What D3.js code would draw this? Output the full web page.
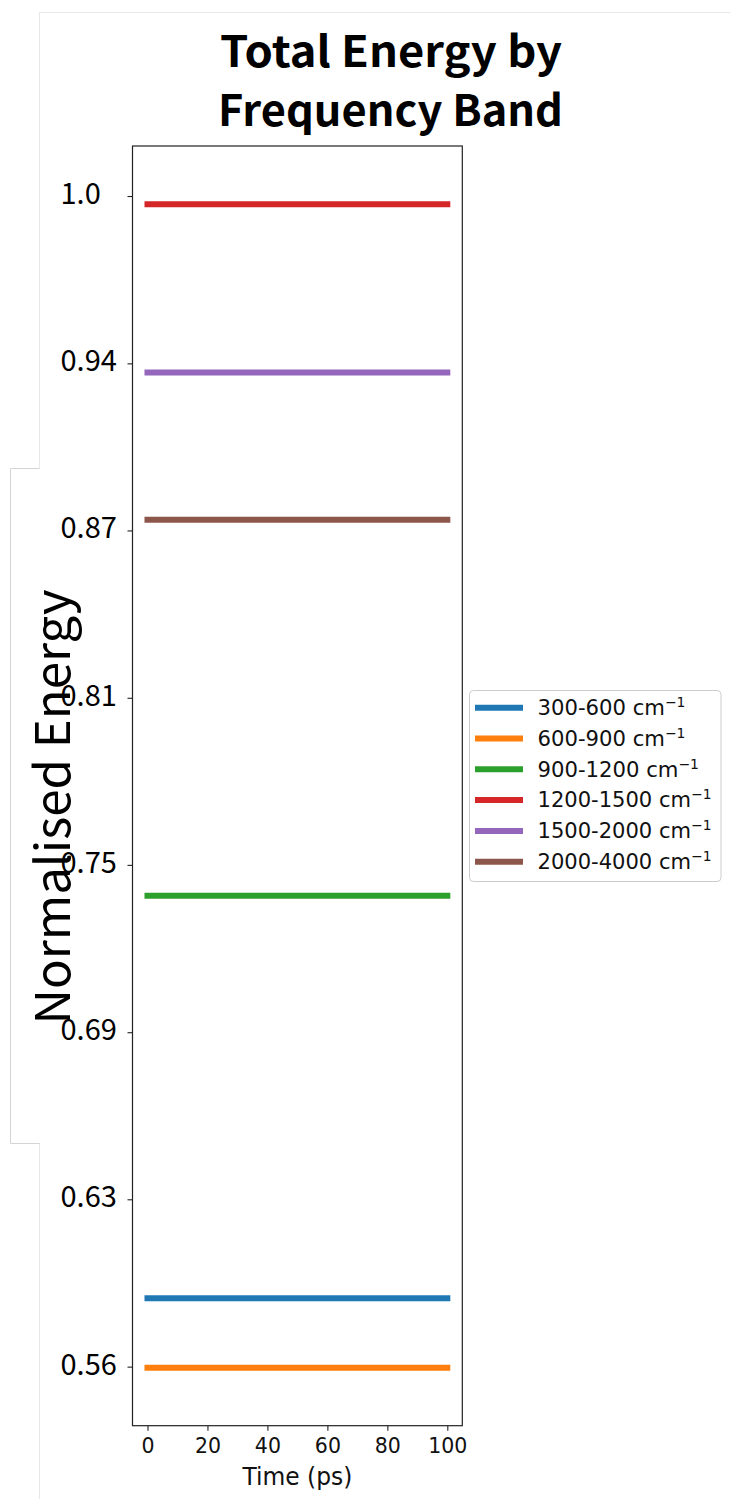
<!DOCTYPE html>
<html>
<head>
<meta charset="utf-8">
<script src="https://cdn.jsdelivr.net/npm/d3@7"></script>
<style>
  html, body { margin: 0; padding: 0; background: #fff; }
  svg { display: block; }
</style>
</head>
<body>
<svg id="chart" width="730" height="1499"></svg>
<script>
// ---- data ----
const timePs = [0, 20, 40, 60, 80, 100];
const bands = ["300-600", "600-900", "900-1200", "1200-1500", "1500-2000", "2000-4000"];
const band300_600   = [0.5857, 0.5857, 0.5857, 0.5857, 0.5857, 0.5857];
const band600_900   = [0.5596, 0.5596, 0.5596, 0.5596, 0.5596, 0.5596];
const band900_1200  = [0.7370, 0.7370, 0.7370, 0.7370, 0.7370, 0.7370];
const band1200_1500 = [0.9969, 0.9969, 0.9969, 0.9969, 0.9969, 0.9969];
const band1500_2000 = [0.9337, 0.9337, 0.9337, 0.9337, 0.9337, 0.9337];
const band2000_4000 = [0.8783, 0.8783, 0.8783, 0.8783, 0.8783, 0.8783];
const seriesValues = [band300_600, band600_900, band900_1200, band1200_1500, band1500_2000, band2000_4000];
const xTickValues = [0, 20, 40, 60, 80, 100];
const yTickValues = [0.56, 0.6229, 0.6857, 0.7486, 0.8114, 0.8743, 0.9371, 1.0];
const yTickLabels = ["0.56", "0.63", "0.69", "0.75", "0.81", "0.87", "0.94", "1.0"];
const colors = ["#1f77b4", "#ff7f0e", "#2ca02c", "#d62728", "#9467bd", "#8c564b"];

// ---- layout ----
const svg = d3.select("#chart");
svg.append("rect").attr("width", 730).attr("height", 1499).attr("fill", "#fff");

// faint border artefacts
const art = svg.append("g").attr("fill", "none");
art.append("path").attr("d", "M39.5,1499 V1143 M39.5,468 V12.5 H730").attr("stroke", "#e8e8e8").attr("stroke-width", 1);
art.append("path").attr("d", "M39.5,468.5 H10.5 V1143.5 H39.5").attr("stroke", "#d4d4d4").attr("stroke-width", 1);

const L = 132.5, R = 462.3, T = 146, B = 1425.7;
const x = d3.scaleLinear().domain([-5, 105]).range([L, R]);
const y = d3.scaleLinear().domain([0.5378, 1.0188]).range([B, T]);

// title
const title = svg.append("g").attr("font-family", "'Noto Sans CJK KR', 'Noto Sans', sans-serif")
  .attr("font-weight", "bold").attr("font-size", 43).attr("text-anchor", "middle").attr("fill", "#000");
title.append("text").attr("x", 391).attr("y", 67).attr("textLength", 342).attr("lengthAdjust", "spacingAndGlyphs").text("Total Energy by");
title.append("text").attr("x", 390.5).attr("y", 126).attr("textLength", 345).attr("lengthAdjust", "spacingAndGlyphs").text("Frequency Band");

// lines
const line = d3.line().x((d, i) => x(timePs[i])).y(d => y(d));
svg.append("g").selectAll("path").data(seriesValues).join("path")
  .attr("d", line).attr("fill", "none")
  .attr("stroke", (d, i) => colors[i]).attr("stroke-width", 6).attr("stroke-linecap", "square");

// axes
const xAxis = svg.append("g").attr("transform", `translate(0,${B})`)
  .call(d3.axisBottom(x).tickValues(xTickValues).tickSize(5).tickSizeOuter(0));
xAxis.select(".domain").remove();
xAxis.selectAll(".tick line").attr("stroke", "#222").attr("stroke-width", 1.1);
xAxis.selectAll(".tick text").attr("font-family", "'DejaVu Sans', sans-serif").attr("font-size", 20.5)
  .attr("fill", "#111").attr("y", 27.8).attr("dy", 0);

const yAxis = svg.append("g").attr("transform", `translate(${L},0)`)
  .call(d3.axisLeft(y).tickValues(yTickValues).tickFormat((d, i) => yTickLabels[i]).tickSize(5).tickSizeOuter(0));
yAxis.select(".domain").remove();
yAxis.selectAll(".tick line").attr("stroke", "#222").attr("stroke-width", 1.1);
yAxis.selectAll(".tick text").attr("font-family", "'Noto Sans CJK KR', 'Noto Sans', sans-serif").attr("font-size", 29)
  .attr("fill", "#000").attr("text-anchor", "start").attr("x", 60.5 - L).attr("y", 7.5).attr("dy", 0);

// frame
svg.append("rect").attr("x", L).attr("y", T).attr("width", R - L).attr("height", B - T)
  .attr("fill", "none").attr("stroke", "#222").attr("stroke-width", 1.2);

// axis labels
svg.append("text").attr("x", (L + R) / 2).attr("y", 1485).attr("text-anchor", "middle")
  .attr("font-family", "'DejaVu Sans', sans-serif").attr("font-size", 25).attr("fill", "#111")
  .attr("textLength", 110).attr("lengthAdjust", "spacingAndGlyphs")
  .text("Time (ps)");
svg.append("text").attr("transform", "translate(70,807) rotate(-90)").attr("text-anchor", "middle")
  .attr("font-family", "'Noto Sans CJK KR', 'Noto Sans', sans-serif").attr("font-size", 48).attr("fill", "#000")
  .attr("textLength", 435).attr("lengthAdjust", "spacingAndGlyphs")
  .text("Normalised Energy");

// legend
const lg = svg.append("g");
lg.append("rect").attr("x", 469.5).attr("y", 690.5).attr("width", 251.5).attr("height", 191)
  .attr("rx", 4).attr("fill", "#fff").attr("fill-opacity", 0.8).attr("stroke", "#cccccc").attr("stroke-width", 1);
const rowY = i => 707.7 + i * 30.8;
const labelWidths = [148, 148, 161.5, 174, 174, 174];
const items = lg.selectAll("g.item").data(bands).join("g").attr("class", "item");
items.append("line").attr("x1", 475).attr("x2", 523).attr("y1", (d, i) => rowY(i)).attr("y2", (d, i) => rowY(i))
  .attr("stroke", (d, i) => colors[i]).attr("stroke-width", 6);
const lt = items.append("text").attr("x", 537.5).attr("y", (d, i) => rowY(i) + 7.3)
  .attr("font-family", "'DejaVu Sans', sans-serif").attr("font-size", 20.5).attr("fill", "#111")
  .attr("textLength", (d, i) => labelWidths[i]).attr("lengthAdjust", "spacingAndGlyphs");
lt.append("tspan").text(d => d + " cm");
lt.append("tspan").attr("font-size", 13.5).attr("dy", -8).text("\u22121");
</script>
</body>
</html>
